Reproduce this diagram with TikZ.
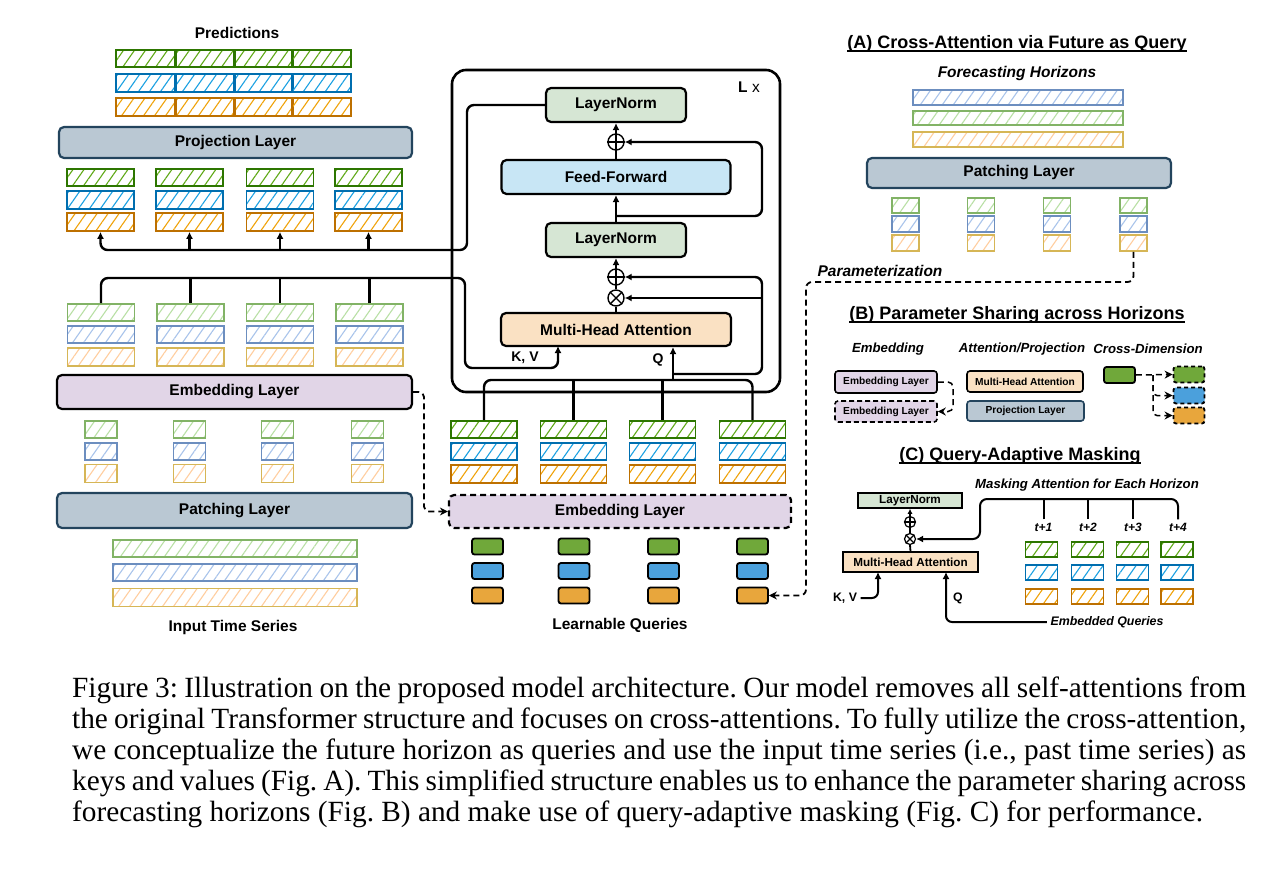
\documentclass[tikz,border=0pt]{standalone}
\usepackage{fontspec}
\setmainfont{Liberation Serif}
\setsansfont{Liberation Sans}
\usetikzlibrary{arrows.meta,patterns.meta}

\definecolor{dkgreen}{HTML}{2D7600}
\definecolor{htgreen}{HTML}{60A917}
\definecolor{dkblue}{HTML}{006EAF}
\definecolor{htblue}{HTML}{1BA1E2}
\definecolor{dkorange}{HTML}{BD7000}
\definecolor{htorange}{HTML}{F0A30A}
\definecolor{ltgreen}{HTML}{82B366}
\definecolor{pagreen}{HTML}{B9E0A5}
\definecolor{ltblue}{HTML}{6C8EBF}
\definecolor{pablue}{HTML}{A9C4EB}
\definecolor{ltorange}{HTML}{D6B656}
\definecolor{paorange}{HTML}{FFCE9F}
\definecolor{qgreen}{HTML}{70A83A}
\definecolor{qblue}{HTML}{4BA0DC}
\definecolor{qorange}{HTML}{E8A63C}
\definecolor{projfill}{HTML}{BAC8D3}
\definecolor{projline}{HTML}{23445D}
\definecolor{embfill}{HTML}{E1D5E7}
\definecolor{lnfill}{HTML}{D6E6D4}
\definecolor{fffill}{HTML}{C8E6F5}
\definecolor{mhafill}{HTML}{FAE1C3}

\newcommand\undl[1]{\setbox0\hbox{#1}\rlap{\rule[-3pt]{\wd0}{1.6pt}}\box0}
\frenchspacing

\begin{document}
\begin{tikzpicture}[x=1pt, y=-1pt,
    lbl/.style={font=\sffamily\bfseries\fontsize{15.5}{18}\selectfont},
    ttl/.style={font=\sffamily\bfseries\fontsize{18}{21}\selectfont},
    sub/.style={font=\sffamily\bfseries\itshape\fontsize{13.2}{16}\selectfont},
    kvf/.style={font=\sffamily\bfseries\fontsize{14}{16}\selectfont},
    sml/.style={font=\sffamily\bfseries\fontsize{10.2}{12}\selectfont},
    cfn/.style={font=\sffamily\bfseries\fontsize{11.7}{14}\selectfont},
    capl/.style={anchor=base west, inner sep=0, font=\fontsize{29.3}{31}\selectfont},
    layer/.style={draw, rounded corners=5pt, line width=2.2pt, inner sep=0, lbl},
    smallbox/.style={draw, rounded corners=3pt, line width=1.6pt, inner sep=0, sml},
    bar/.style={line width=1.7pt, inner sep=0, pattern={Lines[angle=55,distance=9pt,line width=1.1pt]}},
    gD/.style={bar, draw=dkgreen, pattern color=htgreen},
    bD/.style={bar, draw=dkblue, pattern color=htblue},
    oD/.style={bar, draw=dkorange, pattern color=htorange},
    gL/.style={bar, draw=ltgreen, pattern color=pagreen},
    bL/.style={bar, draw=ltblue, pattern color=pablue},
    oL/.style={bar, draw=ltorange, pattern color=paorange},
    qbox/.style={draw, line width=1.8pt, rounded corners=2.5pt, inner sep=0, minimum width=31pt, minimum height=16pt},
    conn/.style={line width=2.4pt},
    arr/.style={conn, -{Latex[length=7pt,width=7pt]}},
    darr/.style={line width=1.8pt, dash pattern=on 6pt off 4pt, -{Stealth[length=8pt,width=8pt]}},
    opc/.style={draw, circle, line width=1.4pt, minimum size=16pt, inner sep=0},
]

    \path[use as bounding box, fill=white] (0,0) rectangle (1264,870);

    % left column: predictions and projection
    \node[lbl] (pred) at (237,33) {Predictions};
    \foreach \i/\x in {0/145.5,1/205,2/264,3/321.5} {
        \node[gD, minimum width=58.5pt, minimum height=17pt] (pg\i) at (\x,58.5) {};
        \node[bD, minimum width=58.5pt, minimum height=18pt] (pb\i) at (\x,83) {};
        \node[oD, minimum width=58.5pt, minimum height=18pt] (po\i) at (\x,107) {};
    }
    \node[layer, fill=projfill, draw=projline, minimum width=353pt, minimum height=31pt] (proj) at (235.5,142.5) {Projection Layer};
    \foreach \i/\x in {0/100.5,1/189.5,2/280,3/368.5} {
        \node[gD, minimum width=67pt, minimum height=17pt] (og\i) at (\x,177.5) {};
        \node[bD, minimum width=67pt, minimum height=18pt] (ob\i) at (\x,200) {};
        \node[oD, minimum width=67pt, minimum height=18pt] (oo\i) at (\x,222) {};
    }

    % left column: input side
    \foreach \i/\x in {0/101,1/190.5,2/280,3/369.5} {
        \node[gL, minimum width=67pt, minimum height=17pt] (ig\i) at (\x,312.5) {};
        \node[bL, minimum width=67pt, minimum height=17pt] (ib\i) at (\x,334.5) {};
        \node[oL, minimum width=67pt, minimum height=18pt] (io\i) at (\x,357) {};
    }
    \node[layer, fill=embfill, minimum width=355pt, minimum height=34pt] (embl) at (234.5,392) {Embedding Layer};
    \foreach \i/\x in {0/101,1/189.5,2/277.5,3/367.5} {
        \node[gL, minimum width=32pt, minimum height=17pt] (sg\i) at (\x,429.5) {};
        \node[bL, minimum width=32pt, minimum height=17pt] (sb\i) at (\x,451.5) {};
        \node[oL, minimum width=32pt, minimum height=18pt] (so\i) at (\x,473.5) {};
    }
    \node[layer, fill=projfill, draw=projline, minimum width=355pt, minimum height=35pt] (patl) at (234.5,510.5) {Patching Layer};
    \node[gL, minimum width=244pt, minimum height=17pt] (tg) at (235,548.5) {};
    \node[bL, minimum width=244pt, minimum height=17pt] (tb) at (235,572.5) {};
    \node[oL, minimum width=244pt, minimum height=18pt] (to) at (235,597.5) {};
    \node[lbl] (its) at (233,627) {Input Time Series};

    % decoder block
    \node[draw, rounded corners=14pt, line width=2.6pt, minimum width=328pt, minimum height=322pt] (blk) at (616,231) {};
    \node[lbl] (lx) at (749,87) {L \textmd{x}};
    \node[layer, fill=lnfill, minimum width=140pt, minimum height=34pt] (ln2) at (616,105) {LayerNorm};
    \node[opc] (add2) at (616,142) {};
    \node[layer, fill=fffill, minimum width=229pt, minimum height=34pt] (ff) at (616,177) {Feed-Forward};
    \node[layer, fill=lnfill, minimum width=140pt, minimum height=34pt] (ln1) at (616,240) {LayerNorm};
    \node[opc] (add1) at (616,277) {};
    \node[opc] (mul) at (616,298) {};
    \node[layer, fill=mhafill, minimum width=230pt, minimum height=33pt] (mha) at (616,329.5) {Multi-Head Attention};
    \node[kvf] (kv) at (525,358) {K, V};
    \node[kvf] (q) at (658,360) {Q};
    \draw[line width=1.4pt] (add2.north) -- (add2.south) (add2.west) -- (add2.east);
    \draw[line width=1.4pt] (add1.north) -- (add1.south) (add1.west) -- (add1.east);
    \draw[line width=1.4pt] (mul.north east) -- (mul.south west) (mul.north west) -- (mul.south east);

    \draw[conn] (mha.north) -- (mul.south);
    \draw[conn] (mul.north) -- (add1.south);
    \draw[arr] (add1.north) -- (ln1.south);
    \draw[arr] (ln1.north) -- (ff.south);
    \draw[conn] (ff.north) -- (add2.south);
    \draw[arr] (add2.north) -- (ln2.south);
    \coordinate (r1) at (616,216);
    \draw[arr, rounded corners=7pt] (r1) -| (762,142) -- (add2.east);

    % queries
    \foreach \i/\x in {0/484,1/573.5,2/662.5,3/752.5} {
        \node[gD, minimum width=66pt, minimum height=17pt] (qg\i) at (\x,429.5) {};
        \node[bD, minimum width=66pt, minimum height=17pt] (qb\i) at (\x,451.5) {};
        \node[oD, minimum width=66pt, minimum height=18pt] (qo\i) at (\x,474) {};
    }
    \node[layer, fill=embfill, dash pattern=on 6pt off 4pt, minimum width=342pt, minimum height=33pt] (embq) at (620,511.5) {Embedding Layer};
    \foreach \i/\x in {0/487.5,1/574,2/663.5,3/752.5} {
        \node[qbox, fill=qgreen] (lg\i) at (\x,546.5) {};
        \node[qbox, fill=qblue] (lb\i) at (\x,571) {};
        \node[qbox, fill=qorange] (lo\i) at (\x,595.5) {};
    }
    \node[lbl] (lq) at (620,625) {Learnable Queries};

    % connectors of the main path
    \coordinate (tbus) at (467,250);
    \draw[arr, rounded corners=7pt] (ln2.west) -| (tbus) -| (oo0.south);
    \foreach \i in {1,2,3} \draw[arr] (oo\i.south |- tbus) -- (oo\i.south);

    \coordinate (kbus) at (465,278);
    \coordinate (kvin) at (558,346);
    \draw[arr, rounded corners=7pt] (ig0.north) |- (kbus) |- (558,368) -- (kvin);
    \foreach \i in {1,2,3} \draw[conn] (ig\i.north) -- (ig\i.north |- kbus);

    \coordinate (qbus) at (673,380);
    \coordinate (qres) at (673,374);
    \coordinate (mres) at (762,298);
    \draw[conn, rounded corners=7pt] (qg0.north) |- (qbus) -| (qg3.north);
    \foreach \i in {1,2} \draw[conn] (qg\i.north) -- (qg\i.north |- qbus);
    \draw[arr] (qbus) -- (qbus |- mha.south);
    \draw[arr, rounded corners=7pt] (qres) -| (762,277) -- (add1.east);
    \draw[arr] (mres) -- (mul.east);

    \coordinate (dl) at (424,511.5);
    \draw[darr, rounded corners=5pt] (embl.east) -| (dl) -- (embq.west);

    % (A)
    \node[ttl] (ta) at (1017,44) {\undl{(A) Cross-Attention via Future as Query}};
    \node[sub, font=\sffamily\bfseries\itshape\fontsize{15.5}{18}\selectfont] (fh) at (1017,73) {Forecasting Horizons};
    \node[bL, minimum width=210pt, minimum height=15pt] (fb) at (1018,97.5) {};
    \node[gL, minimum width=210pt, minimum height=14pt] (fg) at (1018,118) {};
    \node[oL, minimum width=210pt, minimum height=15pt] (fo) at (1018,139.5) {};
    \node[layer, fill=projfill, draw=projline, minimum width=304pt, minimum height=30pt] (apl) at (1019,173) {Patching Layer};
    \foreach \i/\x in {0/905.5,1/981,2/1057,3/1133.5} {
        \node[gL, minimum width=27pt, minimum height=15pt] (ag\i) at (\x,205.5) {};
        \node[bL, minimum width=27pt, minimum height=16pt] (ab\i) at (\x,224) {};
        \node[oL, minimum width=27pt, minimum height=16pt] (ao\i) at (\x,243) {};
    }
    \node[sub, font=\sffamily\bfseries\itshape\fontsize{15.5}{18}\selectfont] (par) at (880,271) {Parameterization};
    \coordinate (pbend) at (806,282);
    \draw[darr, rounded corners=6pt] (ao3.south) |- (pbend) |- (lo3.east);

    % (B)
    \node[ttl] (tbt) at (1017,315) {\undl{(B) Parameter Sharing across Horizons}};
    \node[sub] (bsa) at (888,349) {Embedding};
    \node[sub] (bsb) at (1022,349) {Attention/Projection};
    \node[sub] (bsc) at (1148,349) {Cross-Dimension};
    \node[smallbox, fill=embfill, minimum width=102pt, minimum height=22pt] (be1) at (886,382) {Embedding Layer};
    \node[smallbox, fill=embfill, dash pattern=on 5pt off 3pt, minimum width=102pt, minimum height=21pt] (be2) at (886,411.5) {Embedding Layer};
    \draw[darr, line width=1.5pt, rounded corners=5pt] (be1.east) -| (953,411.5) -- (be2.east);
    \node[smallbox, fill=mhafill, minimum width=116pt, minimum height=21pt] (bm) at (1025,381.5) {Multi-Head Attention};
    \node[smallbox, fill=projfill, draw=projline, minimum width=117pt, minimum height=20pt] (bp) at (1025.5,411) {Projection Layer};
    \node[qbox, fill=qgreen] (cd0) at (1119.5,375) {};
    \node[qbox, fill=qgreen, dash pattern=on 4pt off 3pt] (cd1) at (1189,374.5) {};
    \node[qbox, fill=qblue, dash pattern=on 4pt off 3pt] (cd2) at (1189,395.5) {};
    \node[qbox, fill=qorange, dash pattern=on 4pt off 3pt] (cd3) at (1189,415.5) {};
    \coordinate (cdj) at (1153,375);
    \draw[darr, line width=1.5pt] (cd0.east) -- (cd1.west);
    \draw[darr, line width=1.5pt, rounded corners=4pt] (cdj) |- (cd2.west);
    \draw[darr, line width=1.5pt, rounded corners=4pt] (cdj) |- (cd3.west);

    % (C)
    \node[ttl] (tct) at (1020,456) {\undl{(C) Query-Adaptive Masking}};
    \node[sub] (mae) at (1087,485) {Masking Attention for Each Horizon};
    \node[draw, fill=lnfill, line width=1.5pt, inner sep=0, minimum width=104pt, minimum height=15pt, cfn] (cln) at (910,500.5) {LayerNorm};
    \node[opc, minimum size=11pt, line width=1.2pt] (cadd) at (910,522) {};
    \node[opc, minimum size=11pt, line width=1.2pt] (cmul) at (910,539) {};
    \draw[line width=1.2pt] (cadd.north) -- (cadd.south) (cadd.west) -- (cadd.east);
    \draw[line width=1.2pt] (cmul.north east) -- (cmul.south west) (cmul.north west) -- (cmul.south east);
    \node[draw, fill=mhafill, line width=1.5pt, inner sep=0, minimum width=135pt, minimum height=20pt, cfn] (cmha) at (910.5,562) {Multi-Head Attention};
    \draw[line width=1.8pt] (cmha.north) -- (cmul.south);
    \draw[line width=1.8pt] (cmul.north) -- (cadd.south);
    \draw[-{Latex[length=5pt,width=5pt]}, line width=1.8pt] (cadd.north) -- (cln.south);
    \node[cfn, font=\sffamily\bfseries\fontsize{12.3}{14}\selectfont] (ckv) at (845,598) {K, V};
    \node[cfn, font=\sffamily\bfseries\fontsize{12.3}{14}\selectfont] (cq) at (958,598) {Q};
    \node[sub, font=\sffamily\bfseries\itshape\fontsize{12.4}{14}\selectfont] (ceq) at (1107,622) {Embedded Queries};
    \coordinate (ckvin) at (878,572);
    \coordinate (cqin) at (946,572);
    \draw[arr, line width=2pt, rounded corners=6pt] (ckv.east) -| (ckvin);
    \draw[arr, line width=2pt, rounded corners=6pt] (ceq.west) -| (cqin);
    \foreach \i/\x in {1/1043.5,2/1088,3/1133,4/1178} {
        \node[sub, font=\sffamily\bfseries\itshape\fontsize{12}{14}\selectfont] (ct\i) at (\x,527) {t+\i};
    }
    \foreach \i/\x in {1/1041.5,2/1087.5,3/1132.5,4/1177} {
        \node[gD, minimum width=32pt, minimum height=15pt] (cg\i) at (\x,549.5) {};
        \node[bD, minimum width=32pt, minimum height=15pt] (cb\i) at (\x,572.5) {};
        \node[oD, minimum width=32pt, minimum height=15pt] (co\i) at (\x,596.5) {};
    }
    \coordinate (cbus) at (980,499);
    \draw[arr, line width=2pt, rounded corners=7pt] (ct4.north) |- (cbus) |- (cmul.east);
    \foreach \i in {1,2,3} \draw[line width=2pt, rounded corners=5pt] (ct\i.north) -- (ct\i.north |- cbus);

    % caption
    \node[capl] (cap1) at (72,697) {\makebox[1174pt][s]{Figure 3: Illustration on the proposed model architecture. Our model removes all self-attentions from}};
    \node[capl] (cap2) at (72,728) {\makebox[1174pt][s]{the original Transformer structure and focuses on cross-attentions. To fully utilize the cross-attention,}};
    \node[capl] (cap3) at (72,759) {\makebox[1174pt][s]{we conceptualize the future horizon as queries and use the input time series (i.e., past time series) as}};
    \node[capl] (cap4) at (72,790) {\makebox[1174pt][s]{keys and values (Fig. A). This simplified structure enables us to enhance the parameter sharing across}};
    \node[capl] (cap5) at (72,821) {forecasting horizons (Fig. B) and make use of query-adaptive masking (Fig. C) for performance.};

\end{tikzpicture}
\end{document}
